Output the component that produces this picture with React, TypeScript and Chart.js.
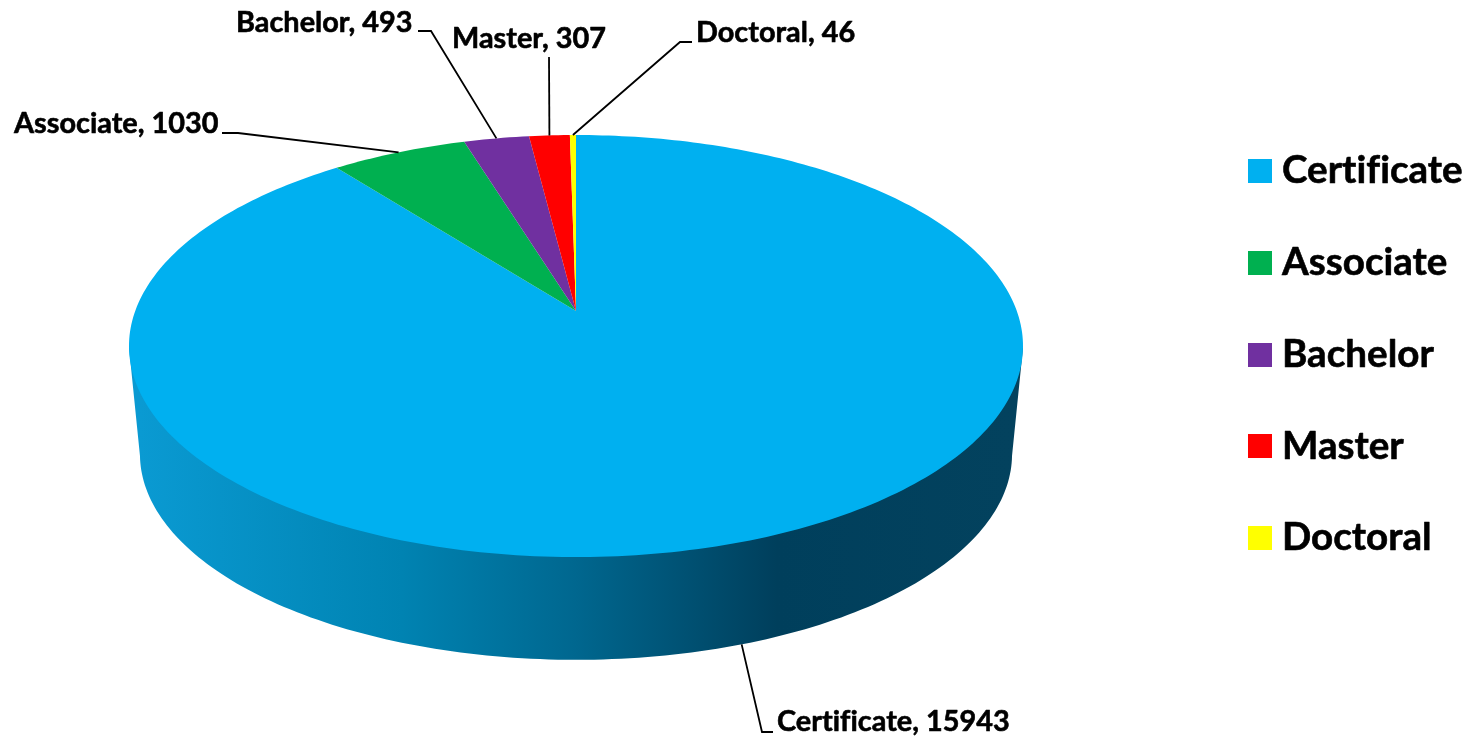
import React, { useEffect, useRef } from "react";
import { Chart, registerables } from "chart.js";

Chart.register(...registerables);

const categories = ["Certificate", "Associate", "Bachelor", "Master", "Doctoral"];
const counts = [15943, 1030, 493, 307, 46];
const sliceColors = ["#00B0F0", "#00B050", "#7030A0", "#FF0000", "#FFFF00"];

// Projection of the pie's unit circle onto the page (a perspective view)
const CX = 576;
const TOP = { y0: 311, rx: 440.8, ry: 205.2 };
const FLOOR = { y0: 420, rx: 430, ry: 200 };
const K = -0.166;

// Where each label sits, and the leader-line route from label to slice
const labelLayout = [
  { x: 777, y: 722, elbow: [[773, 732], [762, 732]], wall: true },
  { x: 14, y: 124, elbow: [[222, 133], [238, 133]], wall: false },
  { x: 236, y: 23, elbow: [[418, 31], [431, 31]], wall: false },
  { x: 452, y: 39, elbow: [[549, 57]], wall: false },
  { x: 696, y: 33, elbow: [[692, 42], [680, 42]], wall: false },
];

const FONT = "Lato";
const LABEL_PX = 29;
const LABEL_SX = 0.995;
const LEGEND_PX = 38;
const LEGEND_SX = 1.015;
const LEGEND_STEP = 91.75;
const LEGEND_FIRST = 171;

const wallStops: [number, string][] = [
  [0, "#0A9AD2"],
  [0.3, "#0083B2"],
  [0.5, "#00678F"],
  [0.73, "#003F5C"],
  [1, "#03425E"],
];

function project(theta: number, p: { y0: number; rx: number; ry: number }) {
  const u = Math.sin(theta);
  const v = -Math.cos(theta);
  const w = 1 + K * v;
  return [CX + (p.rx * u) / w, p.y0 + (p.ry * v) / w];
}

function text(ctx: CanvasRenderingContext2D, s: string, x: number, y: number, px: number, sx: number) {
  ctx.save();
  ctx.font = `bold ${px}px ${FONT}`;
  (ctx as any).letterSpacing = "0.01px";
  ctx.fillStyle = "#000";
  ctx.strokeStyle = "#000";
  ctx.lineWidth = 0.6;
  ctx.lineJoin = "round";
  ctx.textBaseline = "middle";
  ctx.textAlign = "left";
  ctx.translate(x, y);
  ctx.scale(sx, 1);
  ctx.fillText(s, 0, 0);
  ctx.strokeText(s, 0, 0);
  ctx.restore();
}

const pie3d = {
  id: "pie3d",
  beforeDatasetsDraw(chart: any) {
    const ctx: CanvasRenderingContext2D = chart.ctx;
    const arcs = chart.getDatasetMeta(0).data;
    const labels: string[] = chart.data.labels;
    const values: number[] = chart.data.datasets[0].data;

    // Side wall: the hull of the top disc and the floor disc
    const N = 360;
    const leftTop = { x: Infinity, y: 0 };
    const rightTop = { x: -Infinity, y: 0 };
    for (let i = 0; i < N; i++) {
      const [x, y] = project((i / N) * 2 * Math.PI, TOP);
      if (x < leftTop.x) { leftTop.x = x; leftTop.y = y; }
      if (x > rightTop.x) { rightTop.x = x; rightTop.y = y; }
    }
    const floorPts: number[][] = [];
    let iR = 0, iL = 0, maxX = -Infinity, minX = Infinity;
    for (let i = 0; i < N; i++) {
      const pt = project((i / N) * 2 * Math.PI, FLOOR);
      floorPts.push(pt);
      if (pt[0] > maxX) { maxX = pt[0]; iR = i; }
      if (pt[0] < minX) { minX = pt[0]; iL = i; }
    }
    const grad = ctx.createLinearGradient(minX, 0, maxX, 0);
    wallStops.forEach(([o, c]) => grad.addColorStop(o, c));
    ctx.beginPath();
    ctx.moveTo(rightTop.x, rightTop.y);
    for (let i = iR; i <= iL; i++) ctx.lineTo(floorPts[i][0], floorPts[i][1]);
    ctx.lineTo(leftTop.x, leftTop.y);
    ctx.closePath();
    ctx.fillStyle = grad;
    ctx.fill();

    // Top face: every slice uses the angles the library worked out
    arcs.forEach((arc: any) => {
      const a0 = arc.startAngle + Math.PI / 2;
      const a1 = arc.endAngle + Math.PI / 2;
      const steps = Math.max(2, Math.ceil(((a1 - a0) * 180) / Math.PI));
      ctx.beginPath();
      ctx.moveTo(CX, TOP.y0);
      for (let s = 0; s <= steps; s++) {
        const [x, y] = project(a0 + ((a1 - a0) * s) / steps, TOP);
        ctx.lineTo(x, y);
      }
      ctx.closePath();
      ctx.fillStyle = arc.options.backgroundColor;
      ctx.fill();
    });

    // Leader lines and data labels
    arcs.forEach((arc: any, i: number) => {
      const mid = (arc.startAngle + arc.endAngle) / 2 + Math.PI / 2;
      const layout = labelLayout[i];
      const anchor = project(mid, layout.wall ? FLOOR : TOP);
      ctx.beginPath();
      layout.elbow.forEach(([x, y], n) => (n ? ctx.lineTo(x, y) : ctx.moveTo(x, y)));
      ctx.lineTo(anchor[0], anchor[1]);
      ctx.strokeStyle = "#000";
      ctx.lineWidth = 1.8;
      ctx.stroke();
      text(ctx, `${labels[i]}, ${values[i]}`, layout.x, layout.y, LABEL_PX, LABEL_SX);
    });

    // Legend
    labels.forEach((name, i) => {
      const y = LEGEND_FIRST + i * LEGEND_STEP;
      ctx.fillStyle = arcs[i].options.backgroundColor;
      ctx.fillRect(1248, Math.round(y - 12), 24, 24);
      text(ctx, name, 1282, y, LEGEND_PX, LEGEND_SX);
    });
    return false;
  },
};

export default function App() {
  const ref = useRef<HTMLCanvasElement>(null);
  useEffect(() => {
    document.body.style.margin = "0";
    const chart = new Chart(ref.current!, {
      type: "pie",
      data: {
        labels: categories,
        datasets: [{ data: counts, backgroundColor: sliceColors, borderWidth: 0 }],
      },
      options: {
        responsive: false,
        animation: false,
        plugins: { legend: { display: false }, tooltip: { enabled: false } },
      },
      plugins: [pie3d],
    } as any);
    return () => chart.destroy();
  }, []);
  return <canvas ref={ref} width={1480} height={738} style={{ display: "block" }} />;
}
